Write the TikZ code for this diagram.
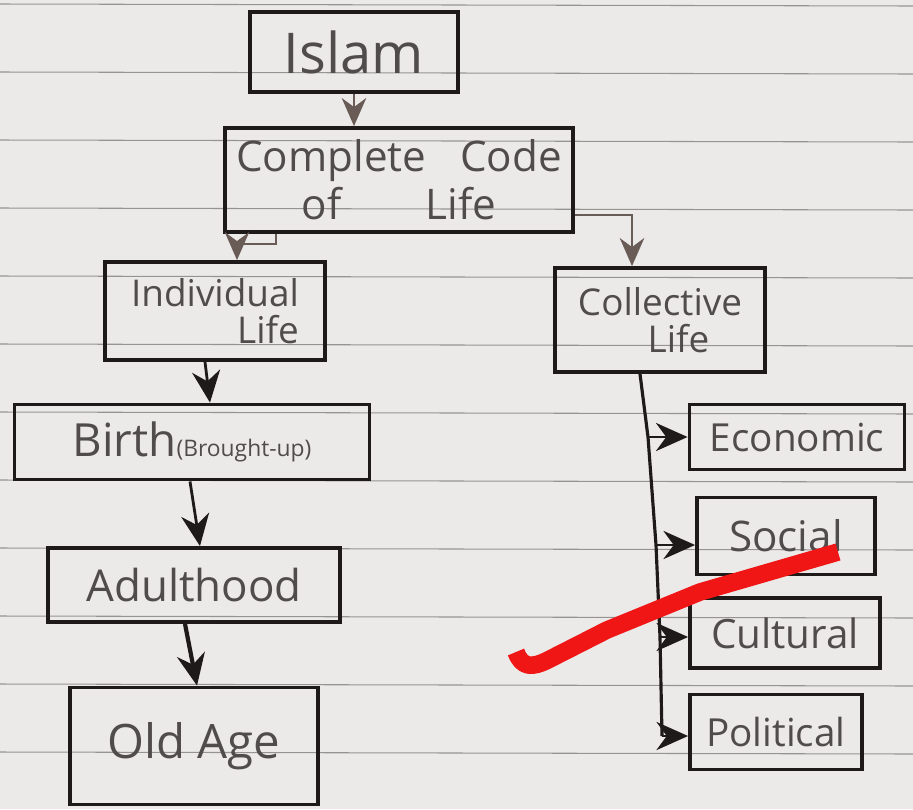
\documentclass[tikz,border=0pt]{standalone}
\usepackage{fontspec}
\setmainfont{Open Sans}
\usetikzlibrary{arrows.meta}
\tikzset{>={Stealth[length=12pt,width=11pt]}}
\definecolor{paper}{RGB}{236,233,233}
\definecolor{rule}{RGB}{150,147,147}
\definecolor{ink}{RGB}{30,26,26}
\definecolor{pencil}{RGB}{80,76,76}
\definecolor{sepia}{RGB}{105,92,86}
\definecolor{marker}{RGB}{240,22,22}
\newcommand{\fs}[1]{\fontsize{#1}{#1}\selectfont}

\begin{document}
\begin{tikzpicture}[x=0.02cm,y=-0.02cm,
  blk/.style={draw=ink,line width=2.2pt,text=pencil,inner sep=2pt},
  arr/.style={draw=ink,line width=1.6pt,-{Stealth[length=18pt,width=16pt]}},
  tarr/.style={draw=sepia,line width=1pt,-{Stealth[length=16pt,width=14pt]}}]
\fill[paper] (0,0) rectangle (913,809);
\useasboundingbox (0,0) rectangle (913,809);
\foreach \y in {4,72,...,760}
  \draw[rule,line width=.6pt] (0,\y) -- (913,\y+2);
% left side
\node[blk,minimum width=4.16cm,minimum height=1.6cm,font=\fs{32}] (islam) at (354,52) {Islam};
\node[blk,minimum width=6.96cm,minimum height=2.08cm,font=\fs{24},align=center] (complete) at (399,180)
  {Complete\hspace{.8em}Code\\[2pt]of\hspace{2em}Life};
\node[blk,minimum width=4.4cm,minimum height=1.96cm,font=\fs{21},align=right] (individual) at (215,311)
  {Individual\\Life};
\node[blk,minimum width=7.1cm,minimum height=1.5cm] (birth) at (192,442)
  {\fs{26}Birth\fs{13}(Brought-up)};
\node[blk,minimum width=5.84cm,minimum height=1.48cm,font=\fs{25}] (adult) at (194,585) {Adulthood};
\node[blk,minimum width=4.96cm,minimum height=2.34cm,font=\fs{27}] (old) at (194,746) {Old Age};
% right side
\node[blk,minimum width=4.2cm,minimum height=2.08cm,font=\fs{21},align=center] (collective) at (660,320)
  {Collective\\\hspace{1em}Life};
\node[blk,minimum width=4.3cm,minimum height=1.3cm,font=\fs{22}] (economic) at (797,437) {Economic};
\node[blk,minimum width=3.56cm,minimum height=1.54cm,font=\fs{24}] (social) at (786,536) {Social};
\node[blk,minimum width=3.8cm,minimum height=1.4cm,font=\fs{23}] (cultural) at (785,633) {Cultural};
\node[blk,minimum width=3.44cm,minimum height=1.5cm,font=\fs{22}] (political) at (776,732) {Political};
% arrows
\draw[tarr] (islam) -- (islam |- complete.north);
\draw[tarr] ([xshift=1.06cm]complete.south west) -- ++(0,10) -| ([xshift=.44cm]individual.north);
\draw[tarr] ([yshift=-.7cm]complete.east) -| ([xshift=-.56cm]collective.north);
\draw[arr] ([xshift=-.2cm]individual.south) -- ([xshift=.36cm]birth.north);
\draw[arr] ([xshift=-.04cm]birth.south) -- ([xshift=.12cm]adult.north);
\draw[arr,line width=2.4pt] ([xshift=-.18cm]adult.south) -- ([xshift=.06cm]old.north);
\coordinate (b1) at (648,437);
\coordinate (b2) at (656,545);
\coordinate (b3) at (660,637);
\coordinate (b4) at (662,736);
\draw[ink,line width=1.8pt,line join=round] ([xshift=-.4cm]collective.south) -- (b1) -- (b2) -- (b3) -- (b4);
\foreach \b/\n in {b1/economic,b2/social,b3/cultural,b4/political}
  \draw[arr] (\b) -- (\b -| \n.west);
% red tick
\draw[marker,line width=10pt,line join=round] (838,552) -- (700,592) -- (607,630) -- (548,660)
  .. controls (532,668) and (522,668) .. (516,652);
\end{tikzpicture}
\end{document}
